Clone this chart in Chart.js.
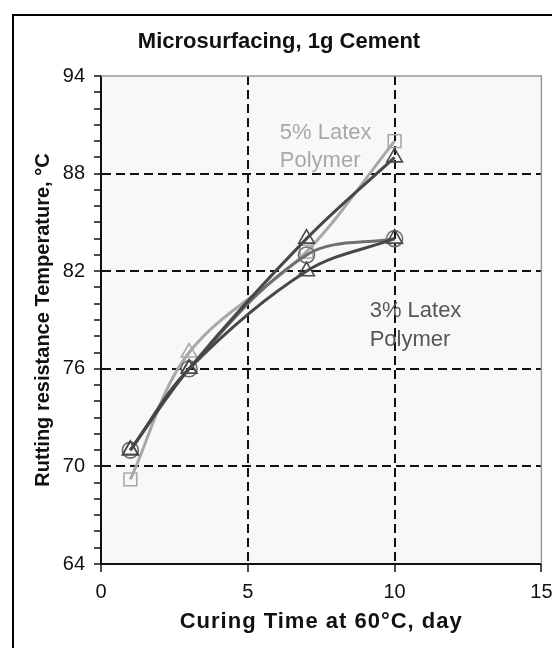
<!DOCTYPE html>
<html>
<head>
<meta charset="utf-8">
<title>Microsurfacing, 1g Cement</title>
<script src="https://cdn.jsdelivr.net/npm/chart.js@4.4.1/dist/chart.umd.min.js"></script>
<style>
  html, body { margin: 0; padding: 0; background: #fff; }
  #wrap { position: relative; width: 552px; height: 648px; }
</style>
</head>
<body>
<div id="wrap"><canvas id="rutChart" width="552" height="648"></canvas></div>
<script>
// curing time (days) and rutting resistance temperature (°C)
const curingDays = [1, 3, 7, 10];
const tri5Latex = [71, 76, 84, 89];
const tri3Latex = [71, 76, 82, 84];
const circleTemps = [71, 76, 83, 84];
const squareTemps = [69.2, 77, 83.2, 90];
const squareMarkers = ['rect', 'triangle', 'rect', 'rect'];

const yMajorTicks = [64, 70, 76, 82, 88, 94];
const yGridTicks = [70, 76, 82, 88];
const xGridTicks = [5, 10];

const FONT = 'Arial, "Liberation Sans", sans-serif';
const AXIS = '#111';

function toPoints(ys) {
  return curingDays.map((d, i) => ({ x: d, y: ys[i] }));
}

function series(ys, color, style, radius) {
  return {
    data: toPoints(ys),
    borderColor: color,
    borderWidth: 3,
    tension: 0.35,
    fill: false,
    pointStyle: style,
    pointRadius: radius,
    pointBorderColor: color,
    pointBorderWidth: 1.6,
    pointBackgroundColor: 'rgba(0,0,0,0)'
  };
}

// frame, plot background and the free text on the chart
const decorations = {
  id: 'decorations',
  beforeDraw(chart) {
    const { ctx, chartArea: a } = chart;
    ctx.save();
    ctx.fillStyle = '#fff';
    ctx.fillRect(0, 0, chart.width, chart.height);
    ctx.fillStyle = '#f8f8f8';
    ctx.fillRect(a.left, a.top, a.right - a.left, a.bottom - a.top);
    ctx.strokeStyle = '#000';
    ctx.lineWidth = 2;
    ctx.strokeRect(13, 15, 700, 800);
    ctx.restore();
  },
  beforeDatasetsDraw(chart) {
    const { ctx, scales } = chart;
    ctx.save();
    ctx.textAlign = 'left';
    ctx.textBaseline = 'alphabetic';
    ctx.font = '22px ' + FONT;
    ctx.fillStyle = '#a8a8a8';
    const x5 = scales.x.getPixelForValue(6.09);
    ctx.fillText('5% Latex', x5, scales.y.getPixelForValue(90.1));
    ctx.fillText('Polymer', x5, scales.y.getPixelForValue(88.4));
    ctx.fillStyle = '#555';
    const x3 = scales.x.getPixelForValue(9.15);
    ctx.fillText('3% Latex', x3, scales.y.getPixelForValue(79.2));
    ctx.fillText('Polymer', x3, scales.y.getPixelForValue(77.4));
    ctx.restore();
  },
  afterDraw(chart) {
    const { ctx, chartArea: a } = chart;
    ctx.save();
    ctx.strokeStyle = '#999';
    ctx.lineWidth = 1.5;
    ctx.beginPath();
    ctx.moveTo(a.left, a.top);
    ctx.lineTo(a.right, a.top);
    ctx.lineTo(a.right, a.bottom);
    ctx.stroke();

    ctx.fillStyle = '#111';
    ctx.textAlign = 'center';
    ctx.textBaseline = 'alphabetic';
    ctx.font = 'bold 22px ' + FONT;
    ctx.fillText('Microsurfacing, 1g Cement', 279, 48);
    ctx.letterSpacing = '1px';
    ctx.fillText('Curing Time at 60°C, day', (a.left + a.right) / 2, 628);
    ctx.restore();
  }
};

new Chart(document.getElementById('rutChart'), {
  type: 'line',
  data: {
    datasets: [
      series(tri3Latex, '#474747', 'triangle', 9),
      series(tri5Latex, '#474747', 'triangle', 9),
      series(circleTemps, '#6e6e6e', 'circle', 8),
      series(squareTemps, '#a8a8a8', squareMarkers, 9)
    ]
  },
  options: {
    responsive: false,
    animation: false,
    layout: { padding: { top: 76, left: 14, right: 5, bottom: 24 } },
    plugins: {
      legend: { display: false },
      tooltip: { enabled: false },
      title: { display: false }
    },
    scales: {
      x: {
        type: 'linear',
        min: 0,
        max: 15,
        ticks: { stepSize: 5, color: '#111', font: { family: FONT, size: 20 }, padding: 8 },
        grid: {
          color: c => (c.tick && xGridTicks.includes(c.tick.value)) ? AXIS : 'rgba(0,0,0,0)',
          lineWidth: 2,
          tickColor: AXIS,
          tickLength: 8,
          tickWidth: 1.5
        },
        border: { color: AXIS, width: 2, dash: [9, 5] },
        afterFit: s => { s.height = 60; s.paddingLeft = 0; s.paddingRight = 0; }
      },
      y: {
        min: 64,
        max: 94,
        ticks: {
          stepSize: 1,
          autoSkip: false,
          color: '#111',
          font: { family: FONT, size: 20 },
          padding: 9,
          callback: v => yMajorTicks.includes(v) ? v : ''
        },
        grid: {
          color: c => (c.tick && yGridTicks.includes(c.tick.value)) ? AXIS : 'rgba(0,0,0,0)',
          lineWidth: 2,
          tickColor: AXIS,
          tickLength: 7,
          tickWidth: 1.5
        },
        border: { color: AXIS, width: 2, dash: [9, 5] },
        title: {
          display: true,
          text: 'Rutting resistance Temperature, °C',
          color: '#111',
          font: { family: FONT, size: 20, weight: 'bold' },
          padding: { top: 17, bottom: 0 }
        },
        afterFit: s => { s.width = 87; s.paddingTop = 0; s.paddingBottom = 0; }
      }
    }
  },
  plugins: [decorations]
});
</script>
</body>
</html>
